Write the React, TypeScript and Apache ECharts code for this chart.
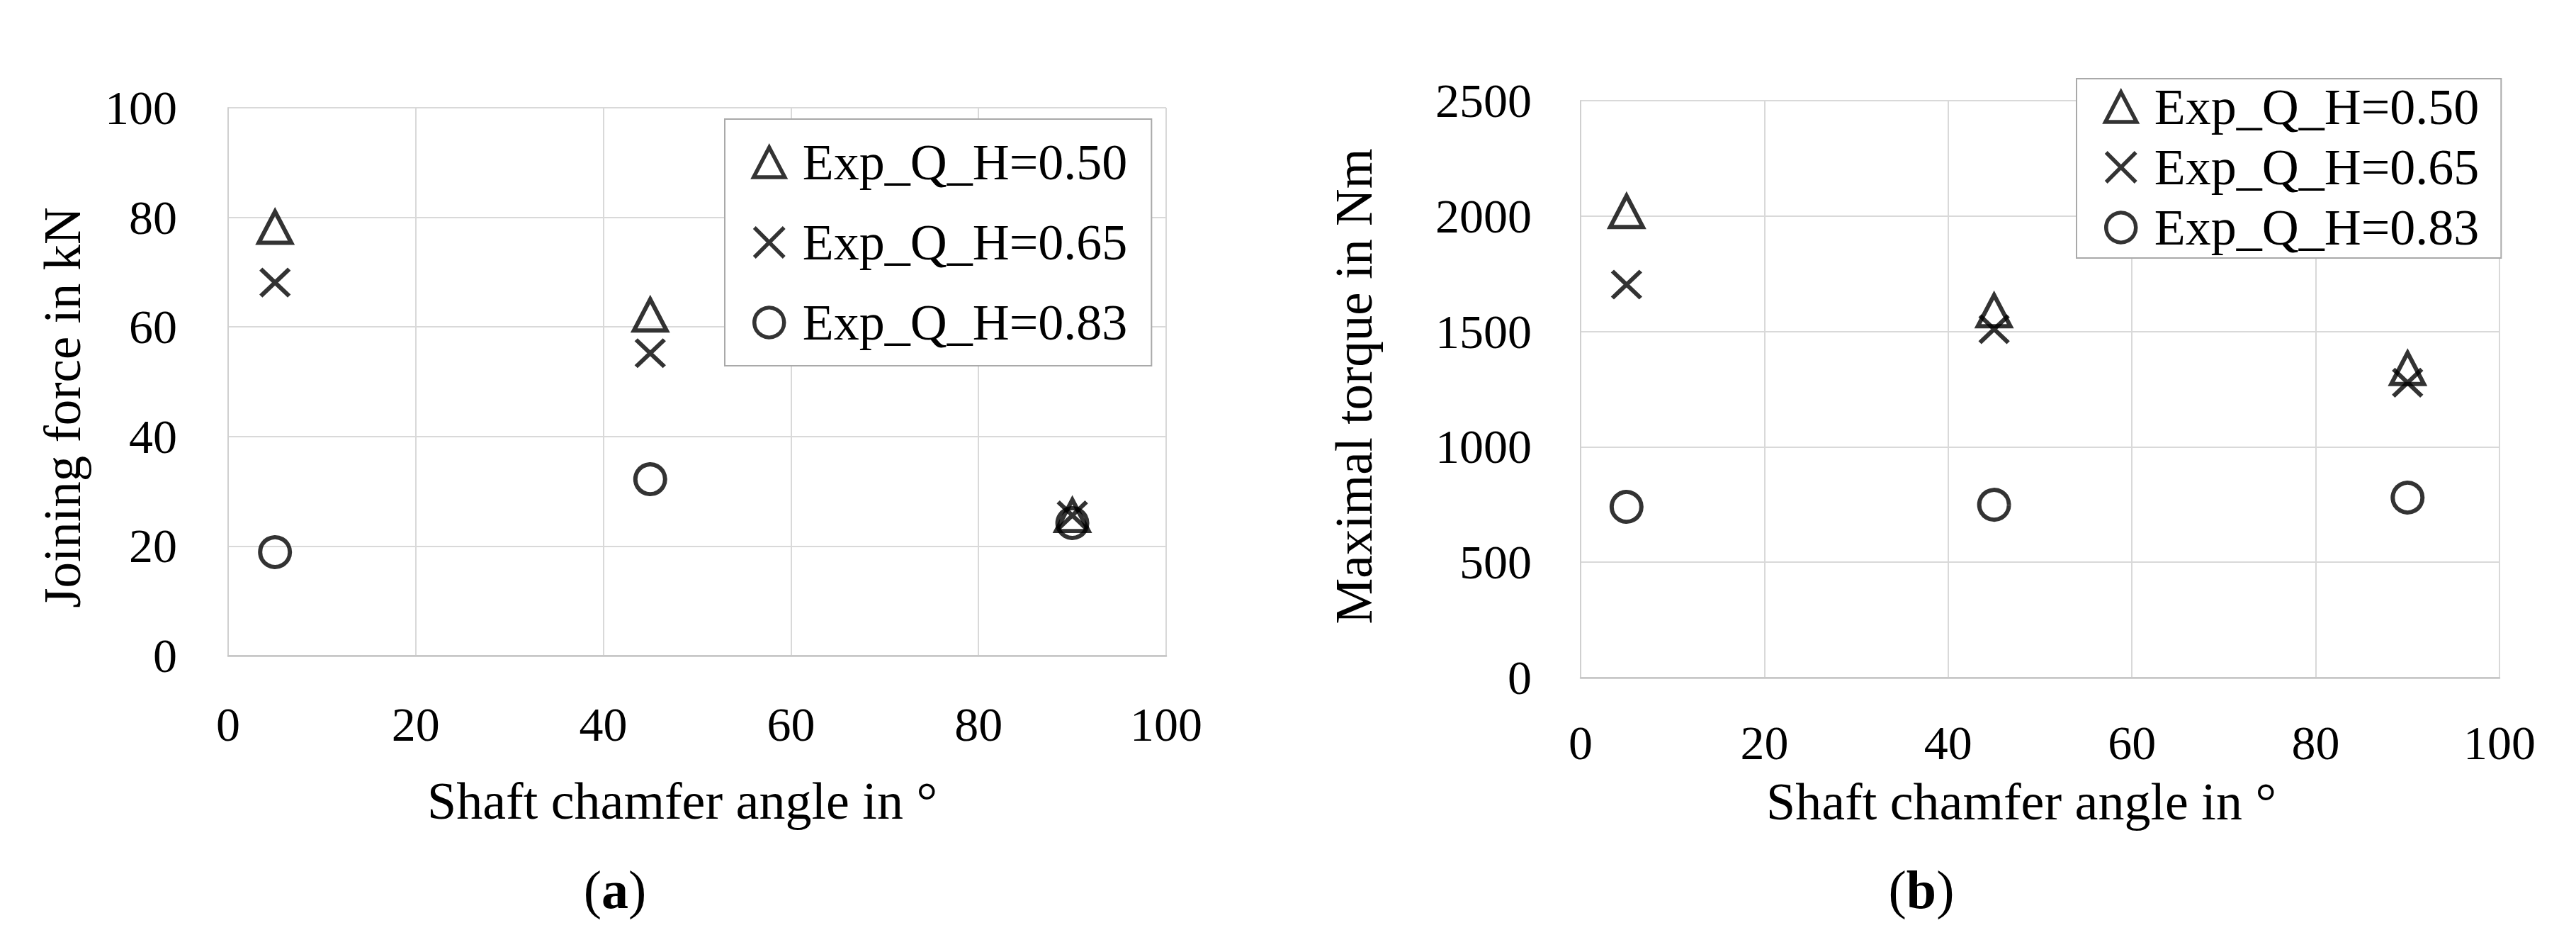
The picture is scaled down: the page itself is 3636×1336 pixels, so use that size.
import React, { useEffect, useRef } from "react";
import * as echarts from "echarts";

// ---- data ----
const chamferAngles = [5, 45, 90];
const seriesNames = ["Exp_Q_H=0.50", "Exp_Q_H=0.65", "Exp_Q_H=0.83"];
const forceQH050 = [78.2, 62.2, 25.6];
const forceQH065 = [68.1, 55.2, 25.6];
const forceQH083 = [18.9, 32.2, 24.2];
const torqueQH050 = [2020, 1590, 1340];
const torqueQH065 = [1703, 1510, 1278];
const torqueQH083 = [740, 749, 780];
const xAxisTitle = "Shaft chamfer angle in °";
const yTitleA = "Joining force in kN";
const yTitleB = "Maximal torque in Nm";

const FONT = '"Liberation Serif", "Times New Roman", serif';

const symbols = ["triangle", "path://M0,0L10,10M10,0L0,10", "circle"];
const symbolSizes: any[] = [
  [46, 44],
  [40, 38],
  [42, 42],
];

function toPoints(vals: number[]) {
  return chamferAngles.map((x, i) => [x, vals[i]]);
}

export default function App() {
  const ref = useRef<HTMLDivElement>(null);

  useEffect(() => {
    if (!ref.current) return;
    const chart = echarts.init(ref.current, undefined, { renderer: "svg" });

    const axisLabel = (margin: number) => ({
      fontFamily: FONT,
      fontSize: 68,
      lineHeight: 58,
      color: "#000",
      margin,
      formatter: (v: number) => String(v),
    });
    const splitLine = { show: true, lineStyle: { color: "#d9d9d9", width: 2 } };

    const xAxisBase = (gridIndex: number, margin: number) => ({
      type: "value",
      gridIndex,
      min: 0,
      max: 100,
      interval: 20,
      axisLine: { show: true, lineStyle: { color: "#c4c4c4", width: 2.5 } },
      axisTick: { show: false },
      axisLabel: axisLabel(margin),
      splitLine,
    });

    const seriesGroups = [
      [forceQH050, forceQH065, forceQH083],
      [torqueQH050, torqueQH065, torqueQH083],
    ];
    const series: any[] = [];
    seriesGroups.forEach((group, gi) => {
      group.forEach((vals, si) => {
        series.push({
          type: "scatter",
          name: seriesNames[si],
          xAxisIndex: gi,
          yAxisIndex: gi,
          data: toPoints(vals),
          symbol: symbols[si],
          symbolSize: symbolSizes[si],
          itemStyle: {
            color: "rgba(0,0,0,0)",
            borderColor: "#000",
            borderWidth: 6,
          },
          emphasis: { disabled: true },
        });
      });
    });

    const legendBase = {
      data: seriesNames,
      orient: "vertical",
      itemWidth: 44,
      itemHeight: 42,
      backgroundColor: "#fff",
      borderColor: "#a9a9a9",
      borderWidth: 2,
      selectedMode: false,
      itemStyle: { borderWidth: 5.5 },
      textStyle: {
        fontFamily: FONT,
        fontSize: 72,
        color: "#000",
        padding: [0, 0, 0, 20],
      },
    };

    const textStyle = (size: number) => ({
      fill: "#000",
      fontFamily: FONT,
      fontSize: size,
      lineHeight: 56,
      align: "center",
      verticalAlign: "middle",
    });

    chart.setOption({
      animation: false,
      backgroundColor: "#fff",
      grid: [
        { left: 322, top: 152, width: 1324, height: 773 },
        { left: 2231, top: 142, width: 1297, height: 814 },
      ],
      xAxis: [xAxisBase(0, 68), xAxisBase(1, 63)],
      yAxis: [
        {
          type: "value",
          gridIndex: 0,
          min: 0,
          max: 100,
          interval: 20,
          axisLine: { show: true, lineStyle: { color: "#d0d0d0", width: 2 } },
          axisTick: { show: false },
          axisLabel: axisLabel(72),
          splitLine,
        },
        {
          type: "value",
          gridIndex: 1,
          min: 0,
          max: 2500,
          interval: 500,
          axisLine: { show: true, lineStyle: { color: "#d0d0d0", width: 2 } },
          axisTick: { show: false },
          axisLabel: axisLabel(69),
          splitLine,
        },
      ],
      legend: [
        {
          ...legendBase,
          left: 1023,
          top: 168,
          padding: [25, 34, 25, 38],
          itemGap: 41,
        },
        {
          ...legendBase,
          left: 2931,
          top: 111,
          padding: [4, 31, 7, 38],
          itemGap: 13,
        },
      ],
      graphic: [
        { type: "text", x: 963, y: 1130, style: { text: xAxisTitle, ...textStyle(74) } },
        { type: "text", x: 2853, y: 1131, style: { text: xAxisTitle, ...textStyle(74) } },
        { type: "text", x: 88, y: 575, rotation: Math.PI / 2, style: { text: yTitleA, ...textStyle(73) } },
        { type: "text", x: 1911, y: 545, rotation: Math.PI / 2, style: { text: yTitleB, ...textStyle(73) } },
        {
          type: "text",
          x: 868,
          y: 1255,
          style: {
            text: "({b|a})",
            ...textStyle(76),
            rich: { b: { fontFamily: FONT, fontSize: 76, fontWeight: "bold", fill: "#000" } },
          },
        },
        {
          type: "text",
          x: 2712,
          y: 1255,
          style: {
            text: "({b|b})",
            ...textStyle(76),
            rich: { b: { fontFamily: FONT, fontSize: 76, fontWeight: "bold", fill: "#000" } },
          },
        },
      ],
      series,
    });

    return () => chart.dispose();
  }, []);

  return (
    <div
      ref={ref}
      style={{ position: "absolute", left: 0, top: 0, width: 3636, height: 1336, background: "#fff" }}
    />
  );
}
